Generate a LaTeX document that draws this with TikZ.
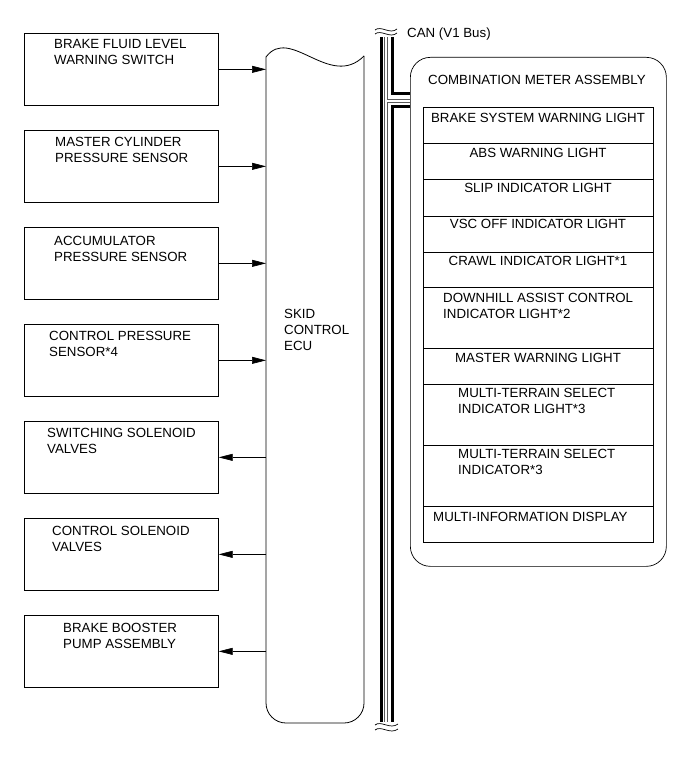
\documentclass[tikz,border=0pt]{standalone}
\usepackage{fontspec}
\setmainfont{Liberation Sans}
\usetikzlibrary{arrows.meta}
\begin{document}
\begin{tikzpicture}[x=1pt,y=-1pt,
  box/.style={draw, line width=0.7pt, minimum width=194pt, minimum height=72pt, anchor=north west, inner sep=0pt},
  rowbox/.style={draw, line width=0.6pt, minimum width=230pt, anchor=north west, inner sep=0pt},
  txt/.style={anchor=north west, inner sep=0pt, align=left, font=\fontsize{13.3}{16}\selectfont},
  ctxt/.style={txt, anchor=north, align=center},
  arr/.style={-{Triangle[length=14pt,width=7pt]}, line width=0.6pt},
  thick bus/.style={line width=3pt},
  thin bus/.style={line width=0.7pt, black!65},
  wave/.style={line width=0.7pt}
]
\useasboundingbox (0,0) rectangle (691,757);

% left boxes
\node[box] (b1) at (24,33) {};
\node[box] (b2) at (24,130) {};
\node[box] (b3) at (24,227) {};
\node[box] (b4) at (24,324) {};
\node[box] (b5) at (24,421) {};
\node[box] (b6) at (24,518) {};
\node[box] (b7) at (24,615) {};

\node[txt] (t1) at (54,39) {BRAKE FLUID LEVEL\\WARNING SWITCH};
\node[txt] (t2) at (55,137) {MASTER CYLINDER\\PRESSURE SENSOR};
\node[txt] (t3) at (54,236) {ACCUMULATOR\\PRESSURE SENSOR};
\node[txt] (t4) at (49,331) {CONTROL PRESSURE\\SENSOR*4};
\node[txt] (t5) at (47,428) {SWITCHING SOLENOID\\VALVES};
\node[txt] (t6) at (52,526) {CONTROL SOLENOID\\VALVES};
\node[txt] (t7) at (63,623) {BRAKE BOOSTER\\PUMP ASSEMBLY};

% ECU
\node[inner sep=0pt, minimum width=98pt, minimum height=677pt, anchor=north west] (ecu) at (266,46) {};
\draw[line width=0.8pt] (266,57) .. controls (290,25) and (330,90) .. (364,56);
\draw[line width=0.8pt, rounded corners=20pt] (364,56) -- (364,723) -- (266,723) -- (266,57);
\node[txt] (tecu) at (284,309) {SKID\\CONTROL\\ECU};

% arrows
\draw[arr] (b1.east) -- (b1.east -| ecu.west);
\draw[arr] (b2.east) -- (b2.east -| ecu.west);
\draw[arr] (b3.east) -- (b3.east -| ecu.west);
\draw[arr] (b4.east) -- (b4.east -| ecu.west);
\draw[arr] (b5.east -| ecu.west) -- (b5.east);
\draw[arr] (b6.east -| ecu.west) -- (b6.east);
\draw[arr] (b7.east -| ecu.west) -- (b7.east);

% bus
\coordinate (bt) at (381,37);
\draw[thick bus] (381,37) -- (381,722);
\draw[thin bus] (384.8,37) -- (384.8,722);
\draw[thin bus] (387.8,37) |- (410,99);
\draw[thin bus] (410,102) -| (387.8,722);
\draw[thick bus] (392.5,37) |- (410,94);
\draw[thick bus] (410,106.5) -| (392.5,722);
\draw[wave] (375,30) .. controls (381,25) and (390,35) .. (397,29);
\draw[wave] (375,34) .. controls (381,29) and (390,39) .. (397,33);
\draw[wave] (375,725) .. controls (381,720) and (390,730) .. (398,724);
\draw[wave] (375,730) .. controls (381,725) and (390,735) .. (398,729);
\node[anchor=base west, inner sep=0pt, font=\fontsize{13.3}{16}\selectfont] (can) at (407,37.5) {CAN (V1 Bus)};

% combination meter
\node[draw, line width=0.7pt, rounded corners=20pt, minimum width=256pt, minimum height=509pt, anchor=north west, inner sep=0pt] (cm) at (410,57) {};
\node[txt] (tcm) at (428,75) {COMBINATION METER ASSEMBLY};

\node[rowbox, minimum height=36pt] (r1) at (423,107) {};
\node[rowbox, minimum height=36pt] (r2) at (423,143) {};
\node[rowbox, minimum height=37pt] (r3) at (423,179) {};
\node[rowbox, minimum height=36pt] (r4) at (423,216) {};
\node[rowbox, minimum height=35pt] (r5) at (423,252) {};
\node[rowbox, minimum height=61pt] (r6) at (423,287) {};
\node[rowbox, minimum height=36pt] (r7) at (423,348) {};
\node[rowbox, minimum height=61pt] (r8) at (423,384) {};
\node[rowbox, minimum height=61pt] (r9) at (423,445) {};
\node[rowbox, minimum height=36pt] (r10) at (423,506) {};

\node[ctxt] at (538,113) {BRAKE SYSTEM WARNING LIGHT};
\node[ctxt] at (538,148) {ABS WARNING LIGHT};
\node[ctxt] at (538,183) {SLIP INDICATOR LIGHT};
\node[ctxt] at (538,219) {VSC OFF INDICATOR LIGHT};
\node[ctxt] at (538,256) {CRAWL INDICATOR LIGHT*1};
\node[txt] at (443,293) {DOWNHILL ASSIST CONTROL\\INDICATOR LIGHT*2};
\node[ctxt] at (538,353) {MASTER WARNING LIGHT};
\node[txt] at (458,388) {MULTI-TERRAIN SELECT\\INDICATOR LIGHT*3};
\node[txt] at (458,449) {MULTI-TERRAIN SELECT\\INDICATOR*3};
\node[txt] at (433,512) {MULTI-INFORMATION DISPLAY};
\end{tikzpicture}
\end{document}
